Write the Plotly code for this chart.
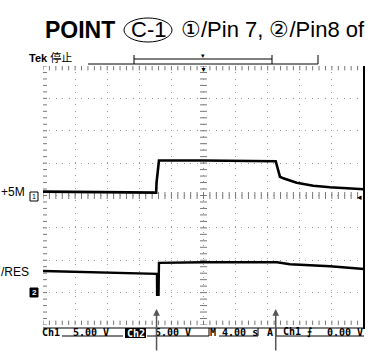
import numpy as np
import plotly.graph_objects as go

W, H = 387, 352

# channel 1 (Pin 7), seconds vs volts
ch1_time = [-20.0, -12.0, -5.9, -5.85, -5.55, 0.0, 5.0, 9.0, 9.53, 9.94, 11.61, 13.68, 15.76, 17.84, 20.0]
ch1_volt = [0.60, 0.52, 0.45, 2.0, 5.40, 5.40, 5.35, 5.30, 2.90, 2.65, 1.98, 1.51, 1.27, 1.10, 0.96]

# channel 2 (Pin 8, /RES)
ch2_time = [-20.0, -12.0, -5.9, -5.8, -5.78, -5.6, -5.55, 0.0, 9.16, 10.78, 15.76, 20.0]
ch2_volt = [3.35, 3.10, 2.90, 2.90, -0.35, -0.35, 4.60, 4.70, 4.70, 4.38, 4.07, 3.66]

volts_per_div = 5.0
ch1_ground = 0.0   # divisions from centre
ch2_ground = -3.0

# plot area in pixels
X0, X1, Y0, Y1 = 43, 364, 66, 325


def px(x):
    return x / W


def py(y):
    return 1 - y / H


fig = go.Figure()

grid = '#9a9a9a'
tick_c = '#777777'

# centre-line and border ticks (scope graticule)
sub_x = np.arange(-20, 20.001, 0.8)
sub_y = np.arange(-4, 4.001, 0.2)
fig.add_trace(go.Scatter(x=sub_x, y=np.zeros_like(sub_x), mode='markers',
                         marker=dict(symbol='line-ns', size=5, line=dict(color=tick_c, width=1)),
                         hoverinfo='skip'))
fig.add_trace(go.Scatter(x=np.zeros_like(sub_y), y=sub_y, mode='markers',
                         marker=dict(symbol='line-ew', size=5, line=dict(color=tick_c, width=1)),
                         hoverinfo='skip'))
fig.add_trace(go.Scatter(x=sub_x, y=np.full_like(sub_x, 3.95), mode='markers',
                         marker=dict(symbol='line-ns', size=4, line=dict(color=tick_c, width=1)),
                         hoverinfo='skip'))
fig.add_trace(go.Scatter(x=sub_x, y=np.full_like(sub_x, -3.95), mode='markers',
                         marker=dict(symbol='line-ns', size=4, line=dict(color=tick_c, width=1)),
                         hoverinfo='skip'))
fig.add_trace(go.Scatter(x=np.full_like(sub_y, -19.85), y=sub_y, mode='markers',
                         marker=dict(symbol='line-ew', size=4, line=dict(color=tick_c, width=1)),
                         hoverinfo='skip'))

# waveforms
fig.add_trace(go.Scatter(x=ch1_time, y=[v / volts_per_div + ch1_ground for v in ch1_volt],
                         mode='lines', line=dict(color='black', width=2.6), hoverinfo='skip'))
fig.add_trace(go.Scatter(x=ch2_time, y=[v / volts_per_div + ch2_ground for v in ch2_volt],
                         mode='lines', line=dict(color='black', width=2.4), hoverinfo='skip'))

fig.update_xaxes(domain=[px(X0), px(X1)], range=[-20, 20], dtick=4, tick0=-20,
                 showgrid=True, gridcolor=grid, gridwidth=1, griddash='1px,5.4px',
                 zeroline=False, showticklabels=False, ticks='', showline=False, fixedrange=True)
fig.update_yaxes(domain=[py(Y1), py(Y0)], range=[-4, 4], dtick=1, tick0=-4,
                 showgrid=True, gridcolor=grid, gridwidth=1, griddash='1px,5.4px',
                 zeroline=False, showticklabels=False, ticks='', showline=False, fixedrange=True)

shapes = []


def seg(x0, y0, x1, y1, w=1, c='black'):
    shapes.append(dict(type='line', xref='paper', yref='paper', x0=px(x0), y0=py(y0), x1=px(x1), y1=py(y1),
                       line=dict(color=c, width=w)))


# right border and bottom readout frame
seg(364, 66, 364, 329, 2)
seg(43, 328, 364, 328, 1)
seg(62, 336, 123, 336)
seg(147, 336, 209, 336)
seg(209, 328, 209, 336)
seg(219, 336, 258, 336)
seg(258, 328, 258, 336)
seg(276, 336, 364, 336)
seg(276, 328, 276, 336)
# top record bracket
seg(88, 64, 318, 64)
seg(134, 55, 134, 64)
seg(134, 59, 272, 59)
seg(272, 55, 272, 64)
seg(318, 55, 318, 64)
# title ellipse
shapes.append(dict(type='circle', xref='paper', yref='paper', x0=px(124), x1=px(172), y0=py(42), y1=py(18),
                   line=dict(color='black', width=1)))
# channel 2 marker box
shapes.append(dict(type='rect', xref='paper', yref='paper', x0=px(30), x1=px(38), y0=py(297), y1=py(288),
                   fillcolor='black', line=dict(color='black', width=1)))
shapes.append(dict(type='rect', xref='paper', yref='paper', x0=px(30), x1=px(38), y0=py(201), y1=py(192),
                   fillcolor='white', line=dict(color='black', width=1)))
# Ch2 readout highlight
shapes.append(dict(type='rect', xref='paper', yref='paper', x0=px(125), x1=px(146), y0=py(338), y1=py(328),
                   fillcolor='black', line=dict(width=0)))
fig.update_layout(shapes=shapes)

ann = []


def text(x, y, s, size=11, family='Liberation Sans, Arial', color='black', anchor='left'):
    ann.append(dict(x=px(x), y=py(y), xref='paper', yref='paper', text=s, showarrow=False,
                    xanchor=anchor, yanchor='middle', borderpad=0,
                    font=dict(size=size, family=family, color=color)))


text(44, 30, '<b>POINT</b>', 23)
text(148, 30, 'C-1', 22, anchor='center')
text(180, 30, '①/Pin 7, ②/Pin8 of', 22)
text(28, 58, '<b>Tek</b> 停止', 11, family='Liberation Sans, Noto Sans CJK JP')
text(0, 192, '+5M', 12)
text(0, 272, '/RES', 12)
text(34, 196.5, '1', 7, anchor='center')
text(34, 292.5, '<b>2</b>', 8, color='white', anchor='center')
mono = 'DejaVu Sans Mono, monospace'
text(41, 332, '<b>Ch1</b>', 10, mono)
text(72, 332, '<b>5.00 V</b>', 10, mono)
text(135.5, 333, '<b>Ch2</b>', 10, mono, color='white', anchor='center')
text(154, 332, '<b>5.00 V</b>', 10, mono)
text(209, 332, '<b>M 4.00 s</b>', 10, mono)
text(266, 332, '<b>A</b>', 10, mono)
text(282, 332, '<b>Ch1 ⨍</b>', 10, mono)
text(364, 332, '<b>0.00 V</b>', 10, mono, anchor='right')
text(203, 69, '▼', 7, anchor='center')
text(203, 55, '▾', 7, anchor='center')
text(359, 197, '◂', 9, anchor='center')

# event arrows under the screen, at the Ch1 edges
for t in (ch1_time[3], ch1_time[7]):
    ann.append(dict(x=t, y=py(309), xref='x', yref='paper', text='', showarrow=True,
                    ax=0, ay=46, arrowhead=2, arrowsize=0.9, arrowwidth=1.5, arrowcolor='#555555'))

fig.update_layout(annotations=ann, width=W, height=H, margin=dict(l=0, r=0, t=0, b=0),
                  paper_bgcolor='white', plot_bgcolor='white', showlegend=False)

fig.write_html('out.html', config={'displayModeBar': False},
               post_script="document.body.style.margin='0';document.body.style.overflow='hidden';")
